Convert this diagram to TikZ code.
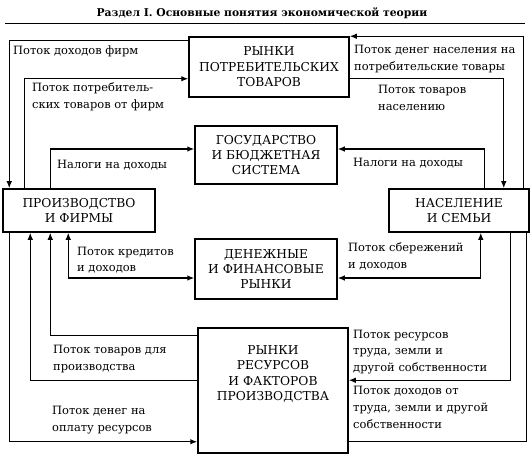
\documentclass[tikz,border=0pt]{standalone}
\usepackage{fontspec}
\setmainfont{DejaVu Serif}
\usetikzlibrary{arrows.meta}
\begin{document}
\begin{tikzpicture}[x=1bp,y=-1bp,
  box/.style={draw,line width=1.5bp,inner sep=0,align=center,font=\fontsize{12.3}{15.5}\selectfont},
  lbl/.style={anchor=west,align=left,inner sep=0,font=\fontsize{11.5}{16.8}\selectfont},
  conn/.style={line width=1.2bp},
  arr/.style={conn,-{Latex[length=7bp,width=5.5bp]}},
  rarr/.style={conn,{Latex[length=7bp,width=5.5bp]}-},
  both/.style={conn,{Latex[length=7bp,width=5.5bp]}-{Latex[length=7bp,width=5.5bp]}}]
\useasboundingbox (0,0) rectangle (530,461);
% title
\node[inner sep=0,font=\bfseries\fontsize{10.8}{12}\selectfont] (title) at (262,13) {Раздел I. Основные понятия экономической теории};
\draw[line width=0.8bp] (5,23) -- (525,23);
% boxes
\node[box,minimum width=160bp,minimum height=60bp] (cons) at (269,67) {РЫНКИ\\ПОТРЕБИТЕЛЬСКИХ\\ТОВАРОВ};
\node[box,minimum width=142bp,minimum height=58bp] (gov) at (266,155) {ГОСУДАРСТВО\\И БЮДЖЕТНАЯ\\СИСТЕМА};
\node[box,minimum width=142bp,minimum height=60bp] (fin) at (266,269) {ДЕНЕЖНЫЕ\\И ФИНАНСОВЫЕ\\РЫНКИ};
\node[box,minimum width=150bp,minimum height=125bp,text depth=35bp] (res) at (273,390.5) {РЫНКИ\\РЕСУРСОВ\\И ФАКТОРОВ\\ПРОИЗВОДСТВА};
\node[box,minimum width=152bp,minimum height=43bp] (prod) at (79,210.5) {ПРОИЗВОДСТВО\\И ФИРМЫ};
\node[box,minimum width=140bp,minimum height=43bp] (pop) at (459,210.5) {НАСЕЛЕНИЕ\\И СЕМЬИ};
% connectors top
\draw[arr] ([yshift=-4bp]cons.north west) -| ([xshift=7bp]prod.north west);
\draw[arr] ([xshift=22bp]prod.north west) |- ([yshift=19bp]cons.south west);
\draw[arr] ([xshift=48bp]prod.north west) |- ([yshift=6bp]gov.west);
\draw[arr] ([xshift=-6bp]pop.north east) |- (cons.north east);
\draw[arr] ([yshift=19bp]cons.south east) -| ([xshift=-26bp]pop.north east);
\draw[arr] ([xshift=-45bp]pop.north east) |- ([yshift=6bp]gov.east);
% connectors bottom
\draw[both] ([xshift=66bp]prod.south west) |- ([yshift=-9bp]fin.west);
\draw[both] ([xshift=-49bp]pop.south east) |- ([yshift=-9bp]fin.east);
\draw[rarr] ([xshift=48bp]prod.south west) |- ([yshift=-8bp]res.north west);
\draw[rarr] ([xshift=28bp]prod.south west) |- ([yshift=-53bp]res.north west);
\draw[arr] ([xshift=7bp]prod.south west) |- ([yshift=12bp]res.south west);
\draw[arr] ([xshift=-19bp]pop.south east) |- ([yshift=-53bp]res.north east);
\draw[conn] ([xshift=-3bp]pop.south east) |- ([yshift=12bp]res.south east);
% labels
\node[lbl] (l1) at (13,51) {Поток доходов фирм};
\node[lbl] (l2) at (32,96.5) {Поток потребитель-\\ских товаров от фирм};
\node[lbl] (l3) at (57,165) {Налоги на доходы};
\node[lbl] (l4) at (354,59) {Поток денег населения на\\потребительские товары};
\node[lbl] (l5) at (378,98) {Поток товаров\\населению};
\node[lbl] (l6) at (353,163) {Налоги на доходы};
\node[lbl] (l7) at (77,260) {Поток кредитов\\и доходов};
\node[lbl] (l8) at (348,256.5) {Поток сбережений\\и доходов};
\node[lbl] (l9) at (53,359) {Поток товаров для\\производства};
\node[lbl] (l10) at (52,420) {Поток денег на\\оплату ресурсов};
\node[lbl] (l11) at (353,352) {Поток ресурсов\\труда, земли и\\другой собственности};
\node[lbl] (l12) at (353,407.5) {Поток доходов от\\труда, земли и другой\\собственности};
\end{tikzpicture}
\end{document}
